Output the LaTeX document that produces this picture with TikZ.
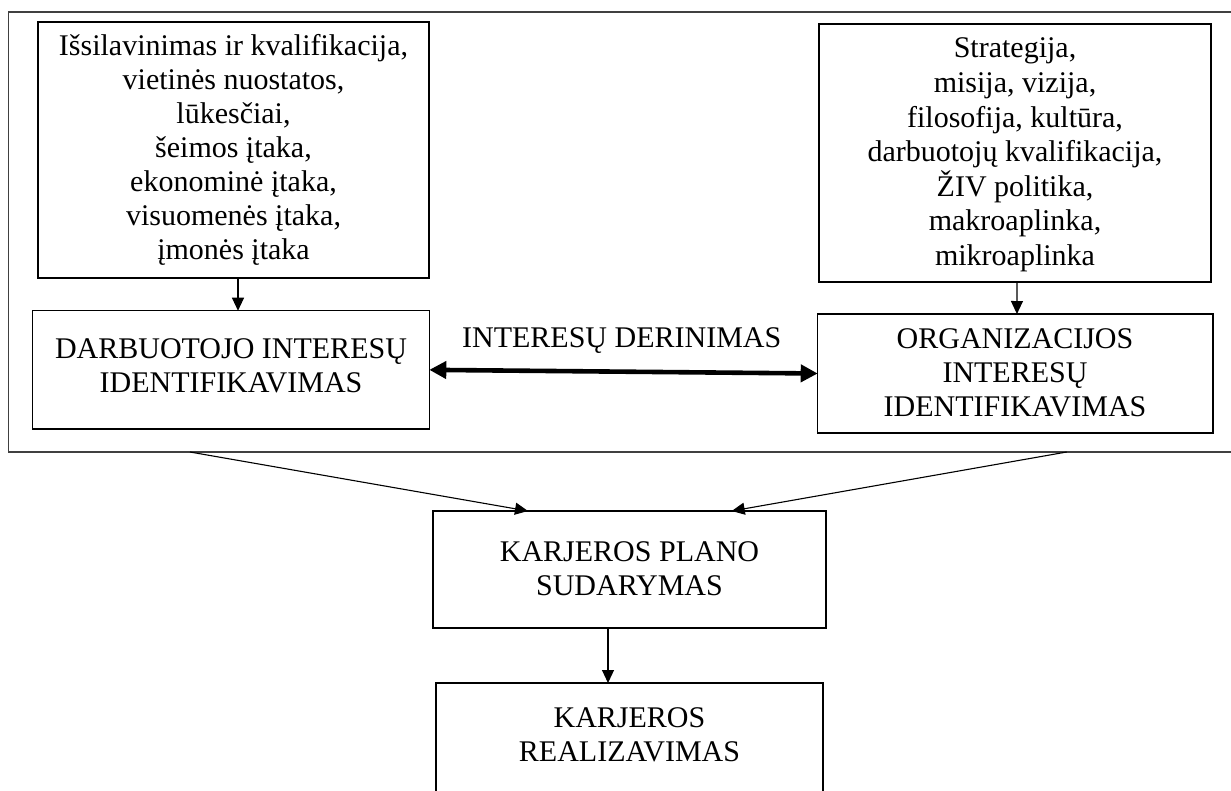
\documentclass[tikz,border=0pt]{standalone}
\usepackage{fontspec}
\setmainfont{Liberation Serif}
\usetikzlibrary{arrows.meta}
\begin{document}
\begin{tikzpicture}[x=1pt,y=-1pt,
  box/.style={draw=black, line width=1.2pt, inner sep=0pt, outer sep=0pt, anchor=north west},
  txt/.style={align=center, font=\fontsize{30}{34}\selectfont, inner sep=0pt},
  arr/.style={line width=1.1pt, -{Triangle[length=13pt,width=12pt]}},
  dblarr/.style={line width=4.6pt, {Triangle[length=17pt,width=17pt]}-{Triangle[length=17pt,width=17pt]}}]
\useasboundingbox (0,0) rectangle (1231,790);
\clip (0,0) rectangle (1231,790);
\fill[white] (0,0) rectangle (1231,790);

% outer frame around the two interest blocks (runs off the right edge)
\node[box, draw=black!75, minimum width=1240pt, minimum height=440pt] (frame) at (8.5,12) {};
\coordinate (fl) at (190,452);
\coordinate (fr) at (1066.7,452);

% boxes
\node[box, minimum width=391pt, minimum height=256pt] (ltop) at (38,22) {};
\node[box, minimum width=392pt, minimum height=258pt] (rtop) at (819,24) {};
\node[box, minimum width=396.6pt, minimum height=118.3pt] (dib) at (32.7,310.7) {};
\node[box, minimum width=395.3pt, minimum height=119pt] (org) at (817.7,314) {};
\node[box, minimum width=393pt, minimum height=117pt] (kpl) at (433,511) {};
\node[box, minimum width=387pt, minimum height=160pt] (kr) at (436,683) {};

% texts
\node[txt] (ltop-t) at (233.5,150) {Išsilavinimas ir kvalifikacija,\\vietinės nuostatos,\\lūkesčiai,\\šeimos įtaka,\\ekonominė įtaka,\\visuomenės įtaka,\\įmonės įtaka};
\node[txt, font=\fontsize{30}{34.6}\selectfont] (rtop-t) at (1015,155) {Strategija,\\misija, vizija,\\filosofija, kultūra,\\darbuotojų kvalifikacija,\\ŽIV politika,\\makroaplinka,\\mikroaplinka};
\node[txt] (dib-t) at (231,365.5) {DARBUOTOJO INTERESŲ\\IDENTIFIKAVIMAS};
\node[txt] (org-t) at (1015,372.5) {ORGANIZACIJOS\\INTERESŲ\\IDENTIFIKAVIMAS};
\node[txt] (kpl-t) at (629.5,569) {KARJEROS PLANO\\SUDARYMAS};
\node[txt] (kr-t) at (629.5,735) {KARJEROS\\REALIZAVIMAS};
\node[txt, anchor=base] (match) at (621.7,347.7) {INTERESŲ DERINIMAS};

% connectors
\draw[arr] ([xshift=4.5pt]ltop.south) -- ([xshift=7pt]dib.north);
\draw[arr] ([xshift=2pt]rtop.south) -- ([xshift=1.6pt]org.north);
\draw[dblarr] (dib.east) -- (org.west);
\draw[arr] (fl) -- ([xshift=-101.5pt]kpl.north);
\draw[arr] (fr) -- ([xshift=102.2pt]kpl.north);
\draw[arr] ([xshift=-21.5pt]kpl.south) -- ([xshift=-21.5pt]kr.north);
\end{tikzpicture}
\end{document}
